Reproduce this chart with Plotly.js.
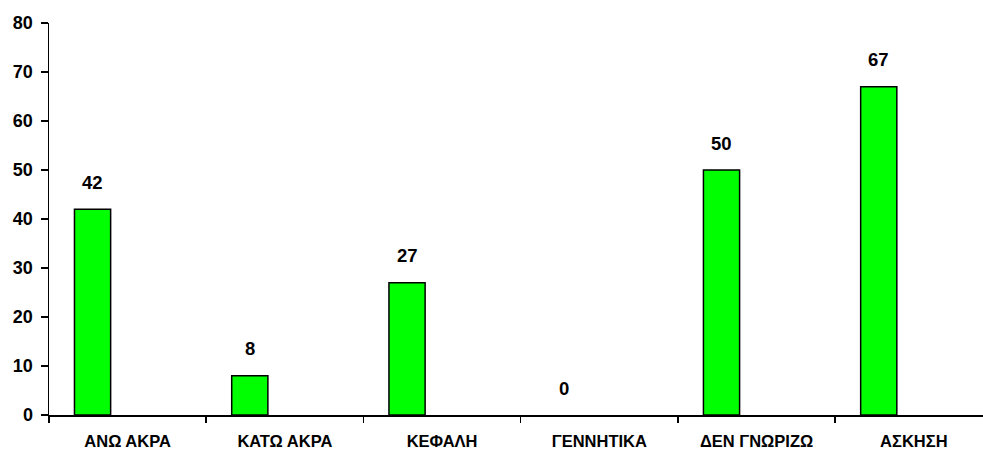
<!DOCTYPE html>
<html>
<head>
<meta charset="utf-8">
<script src="https://cdn.plot.ly/plotly-3.0.1.min.js"></script>
<style>
  html, body { margin: 0; padding: 0; background: #fff; }
  #chart { width: 983px; height: 453px; }
</style>
</head>
<body>
<div id="chart"></div>
<script>
// Categories and counts
const categories = ["ΑΝΩ ΑΚΡΑ", "ΚΑΤΩ ΑΚΡΑ", "ΚΕΦΑΛΗ", "ΓΕΝΝΗΤΙΚΑ", "ΔΕΝ ΓΝΩΡΙΖΩ", "ΑΣΚΗΣΗ"];
const values = [42, 8, 27, 0, 50, 67];
const yTicks = [0, 10, 20, 30, 40, 50, 60, 70, 80];

// Bars sit in the left part of each category slot
const barWidth = 0.23;
const barOffset = -0.338;
const barCenter = barOffset + barWidth / 2;

const FONT = "Liberation Sans, Arial, sans-serif";

const trace = {
  type: "bar",
  x: categories,
  y: values,
  width: barWidth,
  offset: barOffset,
  marker: {
    color: "#00ff00",
    // an empty bar leaves no outline on the baseline
    line: { color: "#000000", width: values.map(v => (v === 0 ? 0 : 1.5)) }
  },
  hoverinfo: "x+y"
};

const annotations = values.map((v, i) => ({
  x: i + barCenter,
  y: v,
  xref: "x",
  yref: "y",
  text: String(v),
  showarrow: false,
  yanchor: "middle",
  yshift: 27,
  font: { family: FONT, size: 18.5, color: "#000", weight: "bold" }
}));

const layout = {
  width: 983,
  height: 453,
  margin: { l: 49, r: 0, t: 23, b: 38 },
  paper_bgcolor: "#ffffff",
  plot_bgcolor: "#ffffff",
  showlegend: false,
  font: { family: FONT, color: "#000" },
  xaxis: {
    type: "category",
    range: [-0.5, 5.44],
    showline: true,
    linecolor: "#000",
    linewidth: 1.5,
    showgrid: false,
    zeroline: false,
    ticks: "outside",
    tickson: "boundaries",
    ticklen: 6,
    tickwidth: 1.5,
    tickcolor: "#000",
    ticklabelstandoff: 11,
    tickfont: { family: FONT, size: 16.5, color: "#000", weight: "bold" }
  },
  yaxis: {
    range: [0, 80],
    tickvals: yTicks,
    ticktext: yTicks.map(String),
    showline: true,
    linecolor: "#000",
    linewidth: 1.5,
    showgrid: false,
    zeroline: false,
    ticks: "outside",
    ticklen: 7,
    tickwidth: 1.5,
    tickcolor: "#000",
    ticklabelstandoff: 4,
    tickfont: { family: FONT, size: 18, color: "#000", weight: "bold" }
  },
  annotations: annotations
};

Plotly.newPlot("chart", [trace], layout, { displayModeBar: false, staticPlot: true });
</script>
</body>
</html>
